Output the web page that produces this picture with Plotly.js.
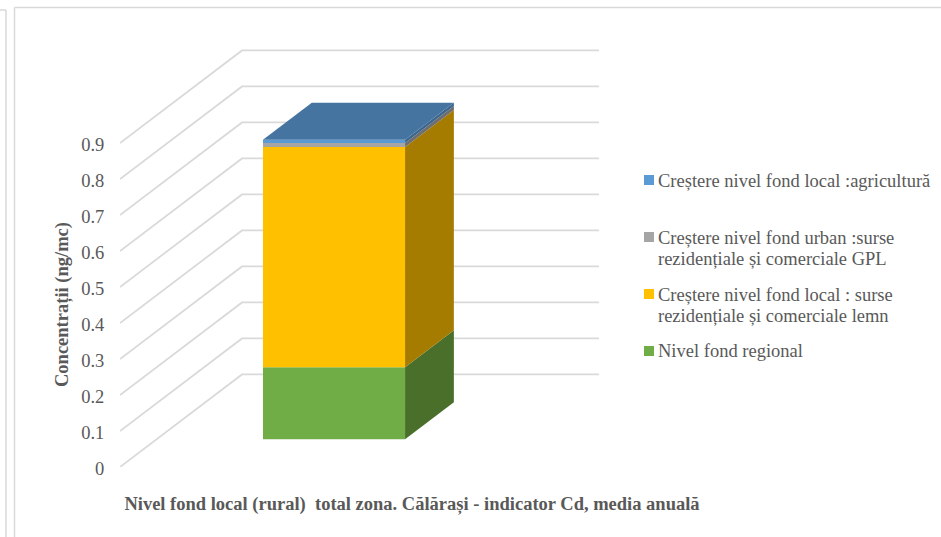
<!DOCTYPE html>
<html>
<head>
<meta charset="utf-8">
<script src="https://cdn.plot.ly/plotly-3.0.1.min.js"></script>
<style>html,body{margin:0;padding:0;background:#fff;overflow:hidden}#chart{width:941px;height:537px}</style>
</head>
<body>
<div id="chart"></div>
<script>
// Data (bottom to top of the stack)
const seriesNames = [
  'Nivel fond regional',
  'Creștere nivel fond local : surse<br>rezidențiale și comerciale lemn',
  'Creștere nivel fond urban :surse<br>rezidențiale și comerciale GPL',
  'Creștere nivel fond local :agricultură'
];
const seriesValues = [0.2, 0.612, 0.011, 0.009];
const frontColors = ['#70AD47', '#FFC000', '#A5A5A5', '#5B9BD5'];
const sideColors = ['#4A6F2B', '#A67C00', '#6E6E6E', '#3C668E'];
const topColor = '#44749F';
const tickValues = [0, 0.1, 0.2, 0.3, 0.4, 0.5, 0.6, 0.7, 0.8, 0.9];
const tickLabels = ['0', '0.1', '0.2', '0.3', '0.4', '0.5', '0.6', '0.7', '0.8', '0.9'];

// Oblique 3D projection used by the original column chart
const depthX = 0.3417, depthY = 0.257;   // shift of the back wall, in axis units
const barCentre = 0.497, barWidth = 0.398, depthFront = 0.3, depthBack = 0.7;
const px = (x, d) => x + d * depthX;
const py = (v, d) => v + d * depthY;
const left = barCentre - barWidth / 2, right = barCentre + barWidth / 2;

const font = 'Liberation Serif, Times New Roman, serif';
const textColor = '#595959';
const traces = [];

// gridlines (primary axes, drawn beneath the column)
tickValues.forEach(v => {
  traces.push({
    type: 'scatter', mode: 'lines', showlegend: false, hoverinfo: 'skip',
    x: [px(0, 0), px(0, 1), px(1, 1)],
    y: [py(v, 0), py(v, 1), py(v, 1)],
    line: {color: '#D9D9D9', width: 1.75}
  });
});

// column (overlay axes, drawn above the gridlines): side faces
let cum = 0;
seriesValues.forEach((val, i) => {
  const lo = cum, hi = cum + val;
  traces.push({
    type: 'scatter', mode: 'lines', fill: 'toself', showlegend: false, hoverinfo: 'skip',
    xaxis: 'x2', yaxis: 'y2',
    x: [px(right, depthFront), px(right, depthBack), px(right, depthBack), px(right, depthFront), px(right, depthFront)],
    y: [py(lo, depthFront), py(lo, depthBack), py(hi, depthBack), py(hi, depthFront), py(lo, depthFront)],
    fillcolor: sideColors[i], line: {width: 0}
  });
  cum = hi;
});
// top face
traces.push({
  type: 'scatter', mode: 'lines', fill: 'toself', showlegend: false, hoverinfo: 'skip',
  xaxis: 'x2', yaxis: 'y2',
  x: [px(left, depthFront), px(left, depthBack), px(right, depthBack), px(right, depthFront), px(left, depthFront)],
  y: [py(cum, depthFront), py(cum, depthBack), py(cum, depthBack), py(cum, depthFront), py(cum, depthFront)],
  fillcolor: topColor, line: {width: 0}
});
// front faces
cum = 0;
seriesValues.forEach((val, i) => {
  traces.push({
    type: 'bar', name: seriesNames[i].replace('<br>', ' '), showlegend: false,
    xaxis: 'x2', yaxis: 'y2',
    x: [px(barCentre, depthFront)], y: [val], base: [py(cum, depthFront)],
    width: [barWidth], marker: {color: frontColors[i], line: {width: 0}}
  });
  cum += val;
});

const W = 941, H = 537;
const m = {l: 120, r: 237, t: 0, b: 70};
const pw = W - m.l - m.r, ph = H - m.t - m.b;
const toX = p => (p - m.l) / pw;
const toY = p => 1 - (p - m.t) / ph;
const xRange = [0, pw / 357], yRange = [0, ph / 360];

// Legend (entries top to bottom)
const legendOrder = [3, 2, 1, 0];
const swatchCentres = [180, 237, 294, 351];
const firstLineCentres = [181, 238, 295, 351];
const legendLineGap = 21;
const annotations = [];
const shapes = [];
legendOrder.forEach((s, r) => {
  seriesNames[s].split('<br>').forEach((line, k) => {
    annotations.push({
      xref: 'paper', yref: 'paper', x: toX(657), y: toY(firstLineCentres[r] + k * legendLineGap),
      xanchor: 'left', yanchor: 'middle', align: 'left', showarrow: false, text: line,
      font: {family: font, size: 18.5, color: textColor}, borderpad: 0
    });
  });
  shapes.push({
    type: 'rect', xref: 'paper', yref: 'paper', line: {width: 0}, fillcolor: frontColors[s],
    x0: toX(644), x1: toX(654), y0: toY(swatchCentres[r] - 5), y1: toY(swatchCentres[r] + 5)
  });
});

// y axis title
annotations.push({
  xref: 'paper', yref: 'paper', x: toX(62), y: toY(305), textangle: -90,
  xanchor: 'center', yanchor: 'middle',
  showarrow: false, text: '<b>Concentrații (ng/mc)</b>',
  font: {family: font, size: 18.5, color: textColor}
});

// outer frames
const frameLine = {color: '#D9D9D9', width: 1.5};
[[0, 10, 6, 10], [6, 10, 6, 537], [14.5, 537, 14.5, 7.5], [14.5, 7.5, 941, 7.5]].forEach(f => {
  shapes.push({type: 'line', xref: 'paper', yref: 'paper', x0: toX(f[0]), y0: toY(f[1]), x1: toX(f[2]), y1: toY(f[3]), line: frameLine});
});

const layout = {
  width: W, height: H, margin: m, autosize: false,
  paper_bgcolor: '#fff', plot_bgcolor: 'rgba(0,0,0,0)',
  barmode: 'overlay', showlegend: false, hovermode: false,
  font: {family: font, color: textColor},
  xaxis: {
    range: xRange, showgrid: false, zeroline: false, showline: false,
    showticklabels: false, ticks: '', fixedrange: true,
    title: {
      text: '<b>Nivel fond local (rural)\u00A0\u00A0total zona. Călărași - indicator Cd, media anuală</b>',
      font: {family: font, size: 18.5, color: textColor}, standoff: 30
    }
  },
  yaxis: {
    range: yRange, showgrid: false, zeroline: false, showline: false,
    tickmode: 'array', tickvals: tickValues, ticktext: tickLabels,
    ticks: 'outside', ticklen: 11, tickcolor: 'rgba(0,0,0,0)', fixedrange: true,
    ticklabelshift: 2,
    tickfont: {family: font, size: 18.5, color: textColor}
  },
  xaxis2: {
    overlaying: 'x', anchor: 'y2', range: xRange, visible: false, fixedrange: true
  },
  yaxis2: {
    overlaying: 'y', anchor: 'x2', range: yRange, visible: false, fixedrange: true
  },
  annotations: annotations, shapes: shapes
};
Plotly.newPlot('chart', traces, layout, {displayModeBar: false, staticPlot: true});
</script>
</body>
</html>
